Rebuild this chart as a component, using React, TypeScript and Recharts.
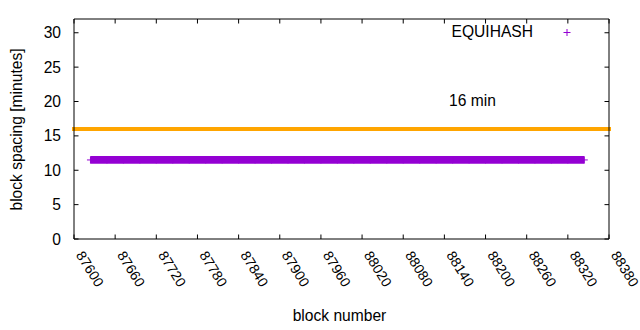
import React from 'react';
import { ComposedChart, Line, XAxis, YAxis, ReferenceLine, Legend } from 'recharts';

// ---- data ----
const blockNumbers = [
  87624, 87648, 87672, 87696, 87720, 87744, 87768, 87792, 87816, 87840,
  87864, 87888, 87912, 87936, 87960, 87984, 88008, 88032, 88056, 88080,
  88104, 88128, 88152, 88176, 88200, 88224, 88248, 88272, 88296, 88320, 88344,
];
const spacingMinutes = [
  11.5, 11.5, 11.5, 11.5, 11.5, 11.5, 11.5, 11.5, 11.5, 11.5,
  11.5, 11.5, 11.5, 11.5, 11.5, 11.5, 11.5, 11.5, 11.5, 11.5,
  11.5, 11.5, 11.5, 11.5, 11.5, 11.5, 11.5, 11.5, 11.5, 11.5, 11.5,
];
const xTicks = [87600, 87660, 87720, 87780, 87840, 87900, 87960, 88020, 88080, 88140, 88200, 88260, 88320, 88380];
const yTicks = [0, 5, 10, 15, 20, 25, 30];
const xDomain = [87600, 88380];
const yDomain = [0, 32];
const targetSpacing = 16;
const targetLabel = '16 min';
const seriesName = 'EQUIHASH';
const xTitle = 'block number';
const yTitle = 'block spacing [minutes]';

const data = blockNumbers.map((b, i) => ({ block: b, spacing: spacingMinutes[i] }));

const FONT = '"Liberation Sans", Arial, sans-serif';
const PURPLE = '#9400D3';
const ORANGE = '#FFA500';
const FS = 15.6;
const XFS = 14;
const TICK = 4.5;

const BottomTick = (props: any) => {
  const { x, y, payload } = props;
  const tx = x + 1.5;
  const ty = y + 16;
  return (
    <g>
      <line x1={x} x2={x} y1={y} y2={y - TICK} stroke="#000" strokeWidth={1} />
      <text x={tx} y={ty} transform={`rotate(58 ${tx} ${ty})`} textAnchor="start" fontSize={XFS} fontFamily={FONT} fill="#000">
        {payload.value}
      </text>
    </g>
  );
};

const TopTick = (props: any) => {
  const { x, y } = props;
  return <line x1={x} x2={x} y1={y} y2={y + TICK} stroke="#000" strokeWidth={1} />;
};

const LeftTick = (props: any) => {
  const { x, y, payload } = props;
  return (
    <g>
      <line x1={x} x2={x + TICK} y1={y} y2={y} stroke="#000" strokeWidth={1} />
      <text x={x - 13} y={y} textAnchor="end" dominantBaseline="central" fontSize={FS} fontFamily={FONT} fill="#000">
        {payload.value}
      </text>
    </g>
  );
};

const RightTick = (props: any) => {
  const { x, y } = props;
  return <line x1={x} x2={x - TICK} y1={y} y2={y} stroke="#000" strokeWidth={1} />;
};

const PlusDot = (props: any) => {
  const { cx, cy, index } = props;
  if (cx == null || cy == null) return <g key={`d${index}`} />;
  return (
    <path
      key={`d${index}`}
      d={`M${cx - 3.5},${cy}H${cx + 3.5}M${cx},${cy - 3.5}V${cy + 3.5}`}
      stroke={PURPLE}
      strokeWidth={1}
      fill="none"
    />
  );
};

const LegendContent = () => (
  <svg width={640} height={330} style={{ position: 'absolute', left: 0, top: 0, overflow: 'visible' }}>
    <text x={533} y={37} textAnchor="end" fontSize={FS} fontFamily={FONT} fill="#000">
      {seriesName}
    </text>
    <path d={`M563.5,32.5H570.5M567,29V36`} stroke={PURPLE} strokeWidth={1} fill="none" />
  </svg>
);

export default function App() {
  return (
    <div style={{ position: 'absolute', left: 0, top: 0, width: 640, height: 330, background: '#fff' }}>
      <ComposedChart
        width={640}
        height={330}
        data={data}
        margin={{ top: 18, right: 30, bottom: 90, left: 73 }}
        style={{ fontFamily: FONT }}
      >
        <XAxis
          dataKey="block"
          type="number"
          domain={xDomain}
          ticks={xTicks}
          allowDataOverflow
          height={1}
          tickSize={0}
          tickMargin={0}
          tickLine={false}
          axisLine={{ stroke: '#000', strokeWidth: 1 }}
          tick={<BottomTick />}
          interval={0}
          label={(p: any) => (
            <text x={339.5} y={320.7} textAnchor="middle" fontSize={FS} fontFamily={FONT} fill="#000">
              {xTitle}
            </text>
          )}
        />
        <XAxis
          xAxisId="top"
          orientation="top"
          dataKey="block"
          type="number"
          domain={xDomain}
          ticks={xTicks}
          allowDataOverflow
          height={1}
          tickSize={0}
          tickMargin={0}
          tickLine={false}
          axisLine={{ stroke: '#000', strokeWidth: 1 }}
          tick={<TopTick />}
          interval={0}
        />
        <YAxis
          type="number"
          domain={yDomain}
          ticks={yTicks}
          allowDataOverflow
          width={1}
          tickSize={0}
          tickMargin={0}
          tickLine={false}
          axisLine={{ stroke: '#000', strokeWidth: 1 }}
          tick={<LeftTick />}
          interval={0}
          label={(p: any) => (
            <text
              x={16}
              y={129.5}
              transform="rotate(-90 16 129.5)"
              textAnchor="middle"
              dominantBaseline="central"
              fontSize={FS}
              fontFamily={FONT}
              fill="#000"
            >
              {yTitle}
            </text>
          )}
        />
        <YAxis
          yAxisId="right"
          orientation="right"
          type="number"
          domain={yDomain}
          ticks={yTicks}
          allowDataOverflow
          width={1}
          tickSize={0}
          tickMargin={0}
          tickLine={false}
          axisLine={{ stroke: '#000', strokeWidth: 1 }}
          tick={<RightTick />}
          interval={0}
        />
        <Legend
          layout="horizontal"
          verticalAlign="middle"
          align="center"
          content={<LegendContent />}
          wrapperStyle={{ position: 'absolute', left: 0, top: 0, width: 640, height: 330, pointerEvents: 'none' }}
        />
        <ReferenceLine
          y={targetSpacing}
          stroke={ORANGE}
          strokeWidth={4}
          strokeLinecap="square"
          label={(p: any) => (
            <text x={449} y={106} textAnchor="start" fontSize={FS} fontFamily={FONT} fill="#000">
              {targetLabel}
            </text>
          )}
        />
        <Line
          type="linear"
          dataKey="spacing"
          name={seriesName}
          stroke={PURPLE}
          strokeWidth={7.7}
          strokeLinecap="butt"
          dot={<PlusDot />}
          activeDot={false}
          isAnimationActive={false}
        />
      </ComposedChart>
    </div>
  );
}
